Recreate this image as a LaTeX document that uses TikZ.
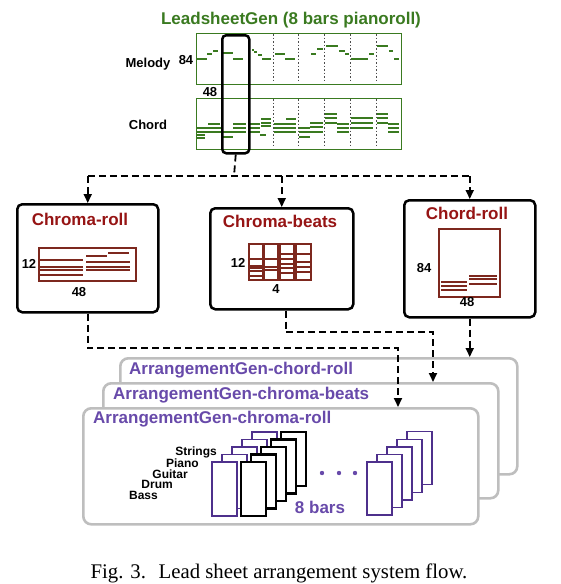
\documentclass[tikz,border=0pt]{standalone}
\usepackage{fontspec}
\setmainfont{Liberation Serif}
\setsansfont{Liberation Sans}
\usetikzlibrary{arrows.meta}
\definecolor{lgreen}{RGB}{58,122,32}
\definecolor{dred}{RGB}{150,20,20}
\definecolor{rollred}{RGB}{125,40,30}
\definecolor{purp}{RGB}{104,74,170}
\definecolor{purpline}{RGB}{78,48,140}
\definecolor{laygray}{RGB}{190,190,190}
\begin{document}
\begin{tikzpicture}[x=1pt,y=-1pt,
  sanslbl/.style={font=\sffamily\bfseries\fontsize{13}{13}\selectfont, inner sep=0pt},
  instlbl/.style={font=\sffamily\bfseries\fontsize{12}{12}\selectfont, inner sep=0pt, anchor=east},
  bigtitle/.style={font=\sffamily\bfseries\fontsize{17}{17}\selectfont, inner sep=0pt},
  boxtitle/.style={bigtitle, text=dred},
  laytitle/.style={bigtitle, text=purp, anchor=west},
  rollbox/.style={draw=lgreen, line width=1.3pt, anchor=north west, inner sep=0pt, minimum width=205pt, minimum height=51pt},
  stagebox/.style={draw=black, line width=2.5pt, rounded corners=5pt, anchor=north west, inner sep=0pt, fill=white},
  layer/.style={draw=laygray, line width=2.6pt, rounded corners=8pt, anchor=north west, inner sep=0pt, fill=white},
  mnote/.style={draw=lgreen, line width=1.5pt},
  barline/.style={draw=black!70, line width=0.6pt, dash pattern=on 1.5pt off 2pt},
  redline/.style={draw=rollred, line width=1.5pt},
  flow/.style={draw=black, line width=1.8pt, dash pattern=on 7pt off 4pt},
  tip/.style={-{Triangle[length=9pt,width=8pt]}},
  purpbar/.style={draw=purpline, line width=1.4pt, fill=white},
  blackbar/.style={draw=black, line width=2.6pt, fill=white}
]
\useasboundingbox (0,0) rectangle (560,584);

% ---------- Lead sheet pianoroll ----------
\node[bigtitle, text=lgreen] (lstitle) at (291,20) {LeadsheetGen (8 bars pianoroll)};
\node[rollbox] (mel) at (196,33) {};
\node[rollbox] (chd) at (196,98) {};
\foreach \x in {273,298.5,324.5,350,376}{
  \draw[barline] (\x,34) -- (\x,83);
  \draw[barline] (\x,99) -- (\x,148);
}
% melody notes
\foreach \a/\b/\y in {197/207/59, 207/212/54, 213/218/51, 223/233/53, 233/243/59,
  252/254/50, 254/257/52, 258/262/55, 262/271/59, 275/285/54, 285/295/59,
  311/316/54, 317/323/49, 326/338/46, 339/345/51, 345/349/54,
  351/368/59, 369/374/54, 377/388/46, 389/393/51, 394/399/59}
  \draw[mnote] (\a,\y) -- (\b,\y);
% chord notes
\foreach \a/\b/\y in {197/221/128, 197/221/132, 197/205/135, 197/205/138, 208/220/124,
  223/233/132, 223/233/137, 233/246/124, 233/246/128, 233/246/132,
  249/260/124, 249/260/128, 249/260/132, 260/266/135, 261/271/119, 261/271/123, 261/271/126,
  274/296/124, 286/296/119, 274/296/128, 274/296/132,
  299/310/128, 299/310/132, 299/310/137, 310/323/123, 310/323/127, 310/323/132,
  325/337/114, 325/337/118, 325/337/123, 337/349/124, 337/349/128, 337/349/132,
  351/373/118, 351/373/123, 351/373/128,
  377/388/114, 377/388/118, 377/388/123, 388/399/124, 388/399/128, 388/399/132}
  \draw[mnote] (\a,\y) -- (\b,\y);
\node[sanslbl] (mellbl) at (148,64) {Melody};
\node[sanslbl] (chdlbl) at (148,125) {Chord};
\node[sanslbl] (n84) at (186,60) {84};
\node[sanslbl] (n48) at (210,92) {48};
\node[draw=black, line width=2.5pt, rounded corners=4pt, anchor=north west, inner sep=0pt,
      minimum width=27pt, minimum height=118pt] (sel) at (221,34) {};

% ---------- three representation boxes ----------
\node[stagebox, minimum width=141pt, minimum height=108pt] (croll) at (16,203) {};
\node[stagebox, minimum width=143pt, minimum height=101pt] (cbeats) at (209,207) {};
\node[stagebox, minimum width=131pt, minimum height=117pt] (chroll) at (403,199) {};
\node[boxtitle] (crolltitle) at (80,219) {Chroma-roll};
\node[boxtitle] (cbeatstitle) at (280,221) {Chroma-beats};
\node[boxtitle] (chrolltitle) at (467,213) {Chord-roll};

% chroma-roll picture
\draw[redline] (39,248) rectangle (136,281);
\foreach \a/\b/\y in {40/83/260, 40/83/267, 40/83/270, 40/83/275, 86/107/256, 108/129/253,
  86/130/262, 86/130/267, 86/130/270}
  \draw[redline] (\a,\y) -- (\b,\y);
\node[sanslbl] (cr12) at (29,264) {12};
\node[sanslbl] (cr48) at (79,292) {48};

% chroma-beats picture
\foreach \a/\b in {249/263, 264/278, 280/294, 296/311}
  \draw[redline] (\a,244) rectangle (\b,280);
\foreach \a/\b/\y in {249/263/259, 249/263/266, 249/263/268, 249/263/271, 249/263/276,
  264/278/259, 264/278/267, 264/278/270,
  280/294/254, 280/294/259, 280/294/264, 280/294/268, 280/294/273,
  296/311/254, 296/311/262, 296/311/267, 296/311/272}
  \draw[redline] (\a,\y) -- (\b,\y);
\node[sanslbl] (cb12) at (238,263) {12};
\node[sanslbl] (cb4) at (276,289) {4};

% chord-roll picture
\draw[redline] (439,229) rectangle (500,297);
\foreach \a/\b/\y in {441/467/282, 441/467/286, 441/467/290, 469/497/276, 469/497/279, 469/497/284}
  \draw[redline] (\a,\y) -- (\b,\y);
\node[sanslbl] (ch84) at (424,268) {84};
\node[sanslbl] (ch48) at (467,302) {48};

% ---------- top connectors ----------
\coordinate (split) at (234,176);
\draw[flow] (sel.south) -- (split);
\draw[flow] (croll.north |- split) -- (chroll.north |- split);
\draw[flow, tip] (croll.north |- split) -- (croll.north);
\draw[flow, tip] (cbeats.north |- split) -- (cbeats.north);
\draw[flow, tip] (chroll.north |- split) -- (chroll.north);

% ---------- arrangement layers ----------
\node[layer, minimum width=397pt, minimum height=116pt] (lay3) at (119,357) {};
\node[layer, minimum width=395pt, minimum height=115pt] (lay2) at (102,382) {};
\node[layer, minimum width=395pt, minimum height=116pt] (lay1) at (82,407) {};
\node[laytitle] (lay3t) at (129,370) {ArrangementGen-chord-roll};
\node[laytitle] (lay2t) at (113,395) {ArrangementGen-chroma-beats};
\node[laytitle] (lay1t) at (93,419) {ArrangementGen-chroma-roll};

% bar stacks
\foreach \k in {4,3,2,1,0}
  \draw[purpbar] (212+10*\k, 462-7.5*\k) rectangle ++(25,54);
\foreach \k in {4,3,2,1,0}
  \draw[blackbar] (241+10*\k, 462-7.5*\k) rectangle ++(25,54);
\foreach \k in {4,3,2,1,0}
  \draw[purpbar] (367+10*\k, 462-7.6*\k) rectangle ++(25,53);
\foreach \x in {322,339,355}
  \fill[purp] (\x,473) circle (2.2pt);
\node[instlbl] (istr) at (217,452) {Strings};
\node[instlbl] (ipia) at (199,463) {Piano};
\node[instlbl] (igui) at (188,474) {Guitar};
\node[instlbl] (idru) at (173,484.5) {Drum};
\node[instlbl] (ibas) at (158,495) {Bass};
\node[bigtitle, text=purp] (bars) at (320,507) {8 bars};

% ---------- bottom connectors ----------
\coordinate (j1) at (398,348);
\coordinate (j2) at (433,332);
\draw[flow, tip] (croll.south) |- (j1) -- (j1 |- lay1.north);
\draw[flow, tip] ([xshift=4pt]cbeats.south) |- (j2) -- (j2 |- lay2.north);
\draw[flow, tip] (chroll.south) -- (chroll.south |- lay3.north);

% ---------- caption ----------
\node[font=\fontsize{20.8}{21}\selectfont, inner sep=0pt] (cap) at (279,573) {Fig. 3.\hspace{0.6em}Lead sheet arrangement system flow.};
\end{tikzpicture}
\end{document}
